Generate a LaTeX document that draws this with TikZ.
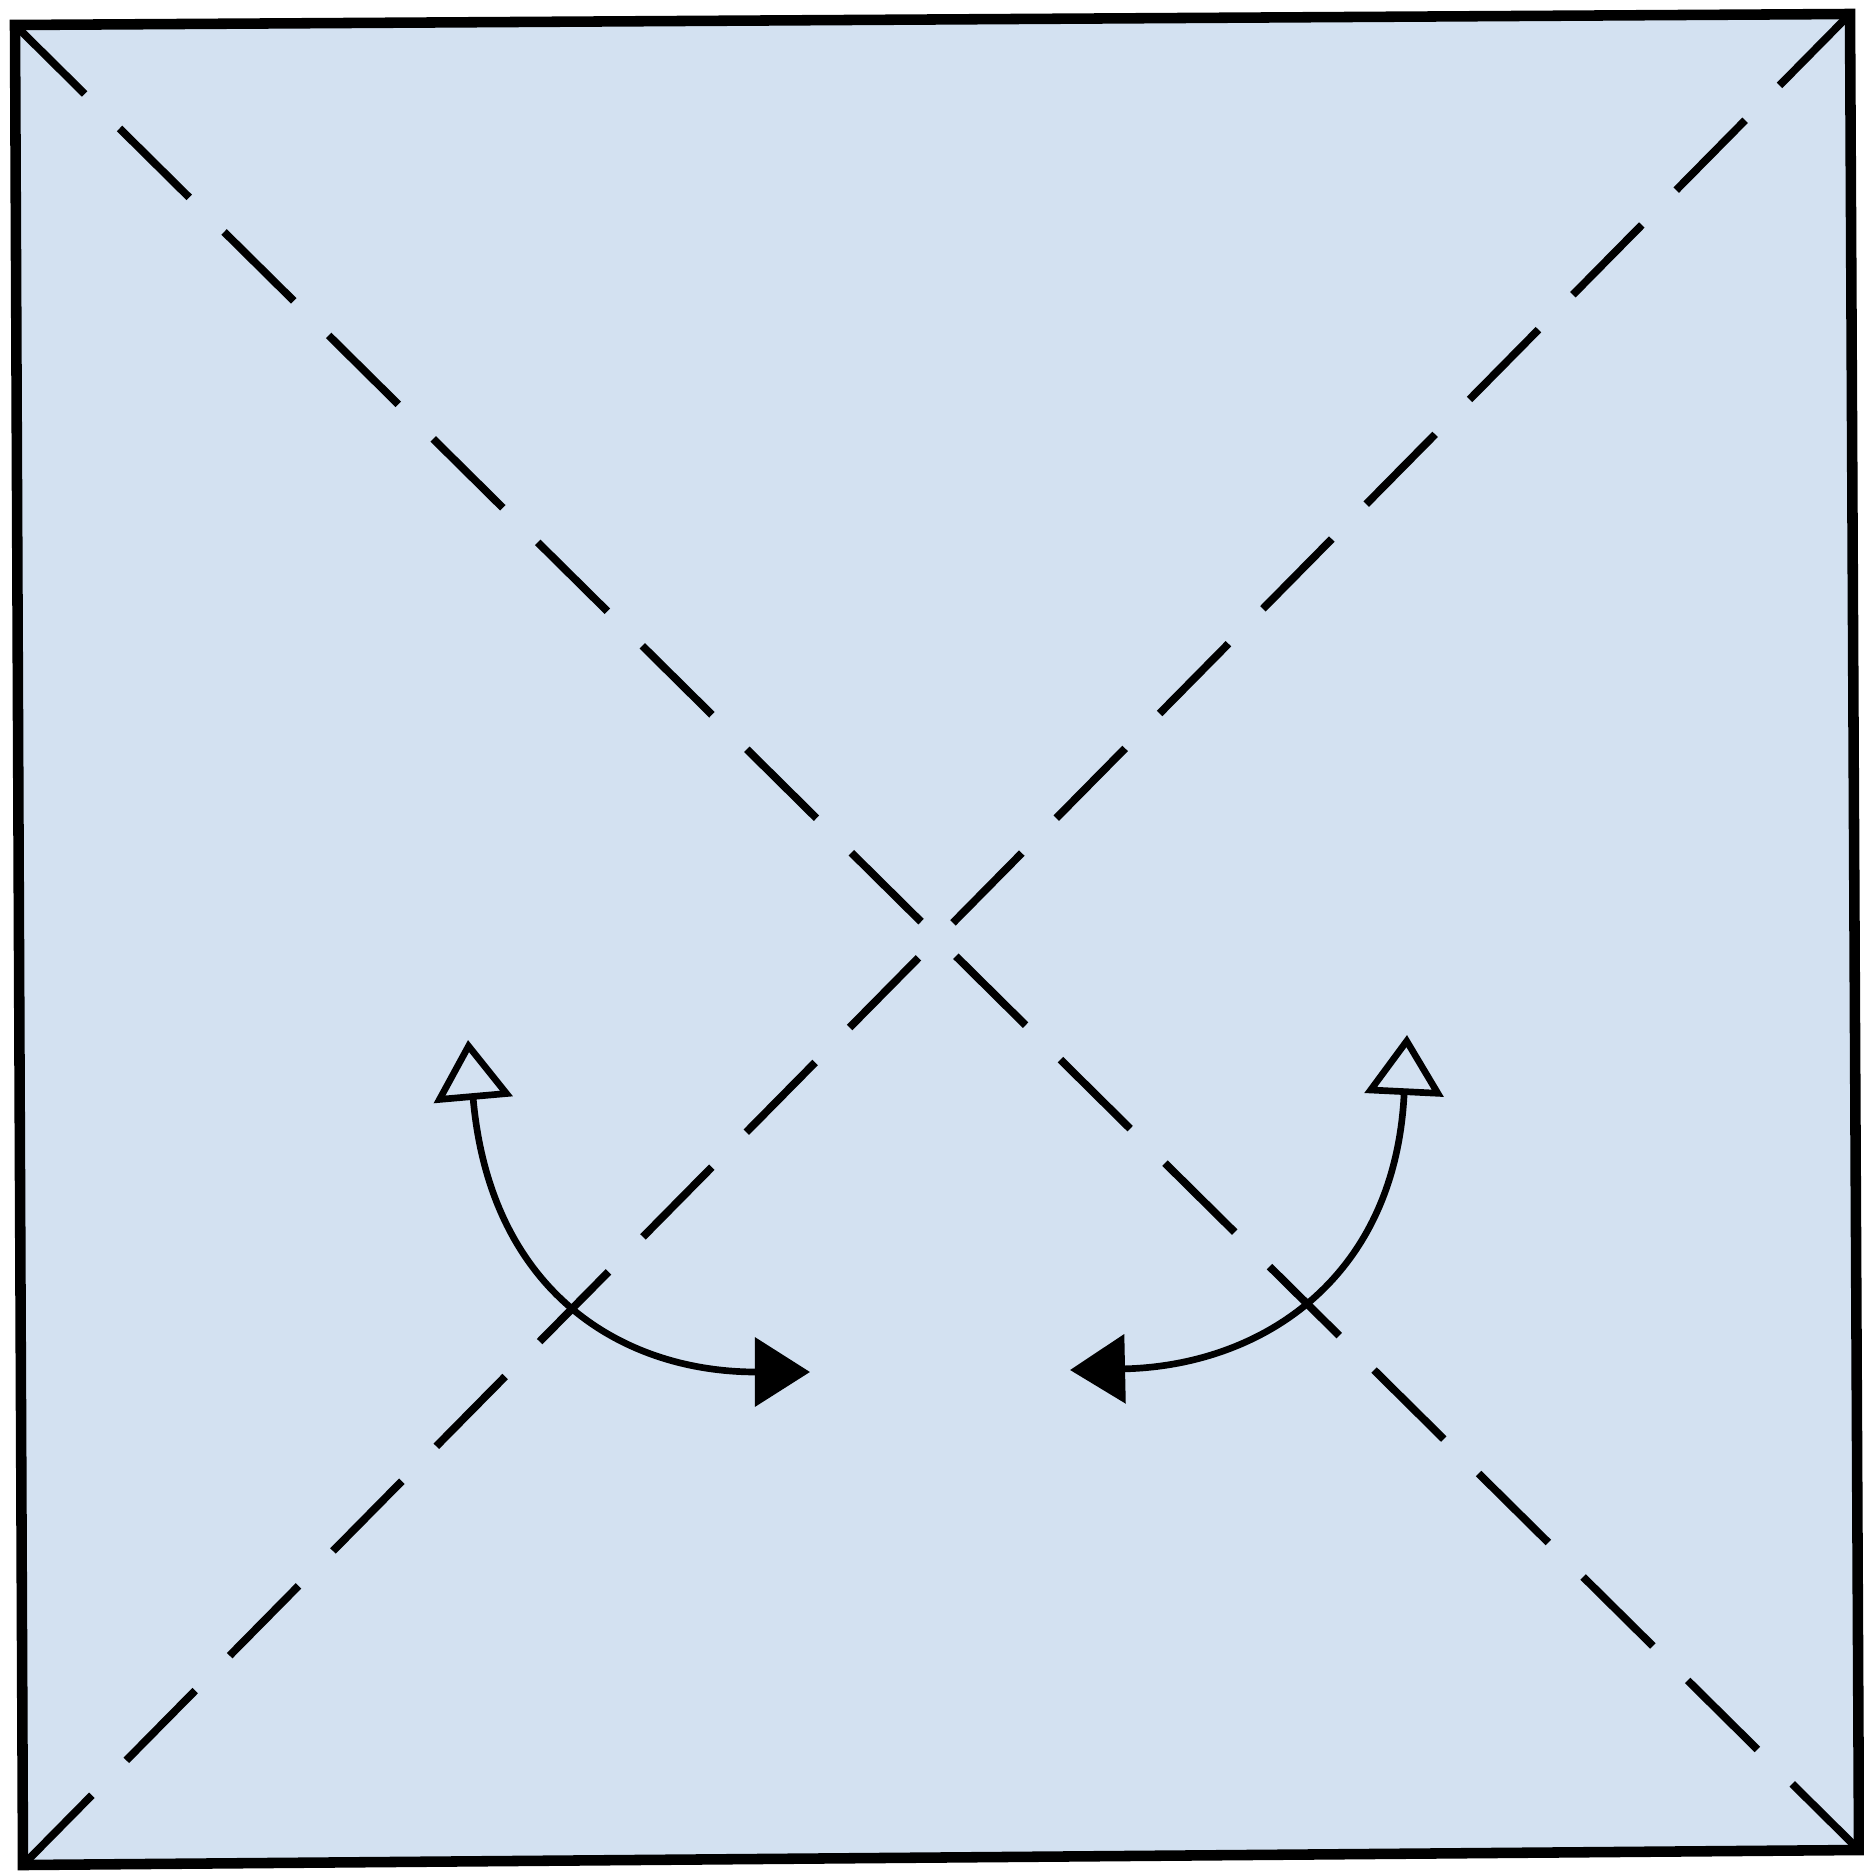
\documentclass[tikz,border=0pt]{standalone}
\usepackage{tikz}
\usetikzlibrary{arrows.meta}
\definecolor{paper}{RGB}{211,225,241}
\tikzset{
  sq/.style={fill=paper,draw=black,line width=3pt,line join=miter},
  crease/.style={line width=2.2pt,dash pattern=on 0.98cm off 0.49cm},
  fold/.style={line width=1.9pt,{Triangle[open,length=0.60cm,width=0.78cm]}-{Triangle[length=0.55cm,width=0.68cm]}}
}
\begin{document}
\begin{tikzpicture}[x=0.01cm,y=-0.01cm]
\fill[white] (0,0) rectangle (1864,1876);
\useasboundingbox (0,0) rectangle (1864,1876);
\coordinate (tl) at (15,25); \coordinate (tr) at (1850,14);
\coordinate (br) at (1859,1850); \coordinate (bl) at (23,1865);
\draw[sq] (tl) -- (tr) -- (br) -- (bl) -- cycle;
\draw[crease] (tl) -- (br); \draw[crease] (bl) -- (tr);
\coordinate (la) at (468,1040); \coordinate (lb) at (810,1372);
\coordinate (ra) at (1407,1035); \coordinate (rb) at (1070,1370);
\draw[fold] (la) .. controls (490,1290) and (620,1372) .. (lb);
\draw[fold] (ra) .. controls (1395,1280) and (1260,1366) .. (rb);
\end{tikzpicture}
\end{document}
